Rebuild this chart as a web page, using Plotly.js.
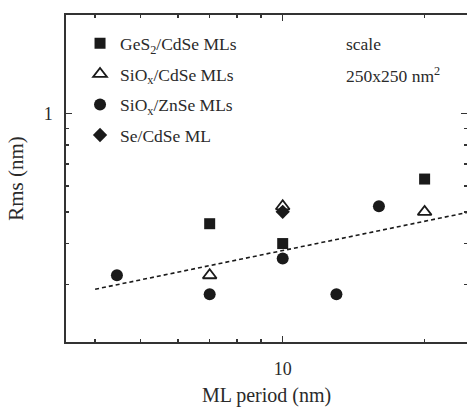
<!DOCTYPE html>
<html><head><meta charset="utf-8">
<script src="https://cdn.plot.ly/plotly-3.0.1.min.js"></script>
<style>html,body{margin:0;padding:0;background:#fff}#chart{width:467px;height:407px}</style>
</head><body><div id="chart"></div>
<script>
// Data (ML period in nm, Rms in nm)
const gesX = [7, 10, 20];
const gesY = [0.46, 0.40, 0.63];
const sioCdX = [7, 10, 20];
const sioCdY = [0.32, 0.52, 0.50];
const sioZnX = [4.45, 7, 10, 13, 16];
const sioZnY = [0.32, 0.28, 0.36, 0.28, 0.52];
const seX = [10];
const seY = [0.50];
const fitX = [4, 25];
const fitY = [0.29, 0.50];
const seriesNames = ['GeS<sub>2</sub>/CdSe MLs', 'SiO<sub>x</sub>/CdSe MLs', 'SiO<sub>x</sub>/ZnSe MLs', 'Se/CdSe ML'];
const xTickVals = [10];
const xTickText = ['10'];
const xMinorVals = [4, 5, 6, 7, 8, 9, 20];
const yTickVals = [1];
const yTickText = ['1'];
const yMinorVals = [0.3, 0.4, 0.5, 0.6, 0.7, 0.8, 0.9];
const noteLines = ['scale', '250x250 nm<sup>2</sup>'];

const ink = '#1a1a1a';
const fam = 'Liberation Serif, Times New Roman, serif';
const txt = '#2a2a2a';
const font = {family: fam, size: 17.5, color: txt};
const titleFont = {family: fam, size: 20, color: txt};

const traces = [
  {x: gesX, y: gesY, name: seriesNames[0], legendgroup: 'a', mode: 'markers', type: 'scatter',
   marker: {symbol: 'square', size: 11, color: ink}},
  {x: sioCdX, y: sioCdY, name: seriesNames[1], legendgroup: 'b', mode: 'markers', type: 'scatter',
   marker: {symbol: 'triangle-up-open', size: 12, color: ink, line: {width: 1.8, color: ink}}},
  {x: sioZnX, y: sioZnY, name: seriesNames[2], legendgroup: 'c', mode: 'markers', type: 'scatter',
   marker: {symbol: 'circle', size: 12, color: ink}},
  {x: seX, y: seY, name: seriesNames[3], legendgroup: 'd', mode: 'markers', type: 'scatter',
   marker: {symbol: 'diamond', size: 11, color: ink}},
  {x: fitX, y: fitY, mode: 'lines', type: 'scatter', showlegend: false,
   line: {color: ink, width: 1.6, dash: '4px,3px'}}
];

const axisCommon = {
  type: 'log', showline: true, linecolor: '#333', linewidth: 1.6, mirror: 'ticks',
  ticks: 'inside', ticklen: 6, tickwidth: 1.4, tickcolor: '#333',
  showgrid: false, zeroline: false, tickmode: 'array',
  tickfont: {family: fam, size: 18, color: txt}
};

const layout = {
  width: 467, height: 407,
  margin: {l: 66, r: 0, t: 15, b: 65},
  paper_bgcolor: '#fff', plot_bgcolor: '#fff',
  font: font,
  showlegend: true,
  legend: {x: 0.035, y: 0.968, xanchor: 'left', yanchor: 'top', bgcolor: 'rgba(0,0,0,0)',
           traceorder: 'grouped', tracegroupgap: 4.8, font: font, itemwidth: 30},
  xaxis: Object.assign({}, axisCommon, {
    range: [Math.log10(3.47), Math.log10(24.6)],
    tickvals: xTickVals, ticktext: xTickText, ticklabelstandoff: 10,
    minor: {tickvals: xMinorVals, ticks: 'inside', ticklen: 3, tickwidth: 1.4, tickcolor: '#333'},
    title: {text: 'ML period (nm)', font: titleFont, standoff: 20}
  }),
  yaxis: Object.assign({}, axisCommon, {
    range: [Math.log10(0.2), Math.log10(2)],
    tickvals: yTickVals, ticktext: yTickText, ticklabelstandoff: 8,
    minor: {tickvals: yMinorVals, ticks: 'inside', ticklen: 3, tickwidth: 1.4, tickcolor: '#333'},
    title: {text: 'Rms (nm)', font: {family: fam, size: 21, color: txt}, standoff: 14}
  }),
  annotations: [
    {xref: 'paper', yref: 'paper', x: 0.6925, y: 0.911, xanchor: 'left', yanchor: 'middle',
     text: noteLines[0], showarrow: false, font: font},
    {xref: 'paper', yref: 'paper', x: 0.6925, y: 0.815, xanchor: 'left', yanchor: 'middle',
     text: noteLines[1], showarrow: false, font: font}
  ]
};

Plotly.newPlot('chart', traces, layout, {displayModeBar: false, staticPlot: true});
</script></body></html>
